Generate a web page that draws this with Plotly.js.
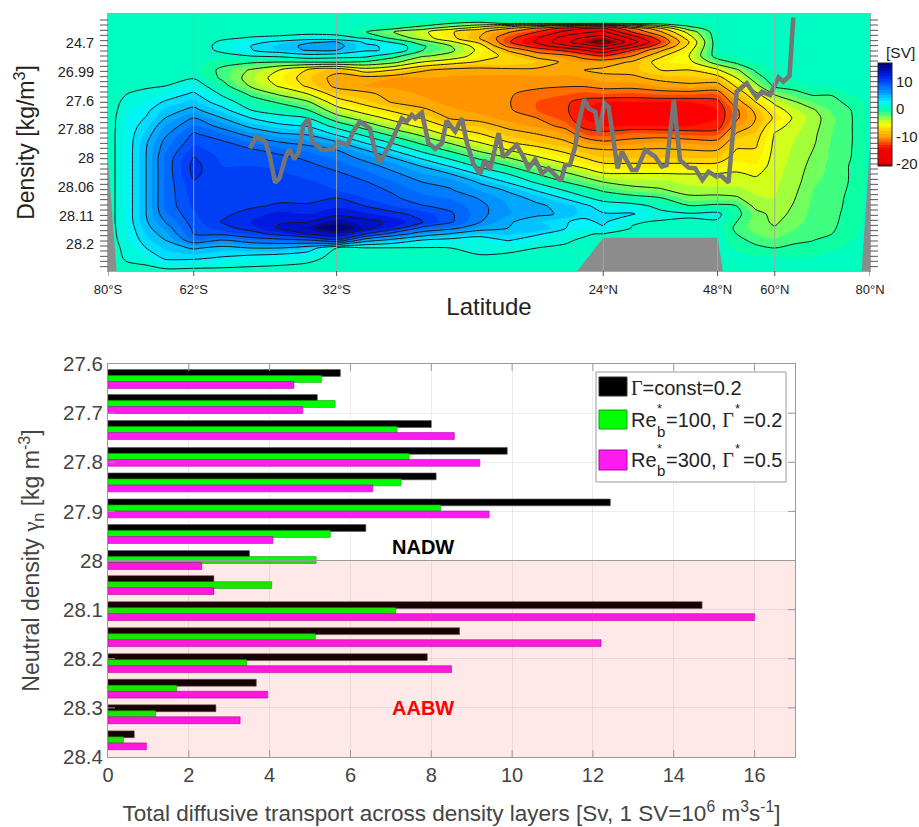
<!DOCTYPE html>
<html><head><meta charset="utf-8">
<script src="https://cdn.plot.ly/plotly-3.0.1.min.js"></script>
<style>html,body{margin:0;padding:0;background:#fff}#c{width:919px;height:827px}</style>
</head><body><div id="c"></div>
<script>
// ---------- top panel data ----------
const latitudeTicks=[-80,-62,-32,24,48,60,80];
const latitudeLabels=['80°S','62°S','32°S','24°N','48°N','60°N','80°N'];
const densityTickPos=[129,215,302,387,474,561,648,732];
const densityLabels=['24.7','26.99','27.6','27.88','28','28.06','28.11','28.2'];
const layerTicks=[60,75,91,106,122,137,153,168,183,199,214,230,245,260,276,291,307,322,337,353,368,384,399,414,430,445,461,476,492,507,522,538,553,569,584,599,615,630,646,661,676,692,707,723,738,753,769,784,800];
const lat=[-80,-76,-72,-68,-62,-56,-50,-44,-38,-32,-26,-20,-14,-8,-2,4,10,16,20,24,30,36,42,48,52,56,60,64,68,72,76,80];
const layer=[42,60,70,78,86,96,114,126,138,150,168,186,210,234,258,282,306,330,354,378,402,426,450,474,498,522,546,570,594,618,642,666,684,702,720,744,774,813];
// streamfunction [Sv]: one row per latitude, one value per layer
const psi=[
[.3,.3,.3,.3,.3,.3,.3,.3,.3,.3, .3,.3,.3,.3,.3,.3,.3,.3,.3,.3, .3,.3,.3,.3,.3,.3,.3,.3,.3,.3, .3,.3,.3,.3,.3,.3,.3,.3],
[.3,.3,.3,.3,.3,.3,.3,.3,.3,.3, .3,.3,.3,.3,.6,1,1.4,1.7,2,2.1, 2.2,2.2,2.2,2.2,2.2,2.2,2.2,2.2,2.2,2.2, 2.2,2.2,2,1.9,1.7,1.4,1.2,.5],
[.3,.3,.3,.3,.3,.3,.3,.3,.3,.3, .3,.3,.3,.4,.8,1.4,2,2.6,3.1,3.7, 4.3,4.8,4.95,5,5,5,5,5,5,5, 5,4.8,4.5,4.1,3.7,3,1.6,.5],
[.3,.3,.3,.3,.3,.3,.3,.3,.3,.3, .3,.3,.3,.5,1,2,3.2,4.3,5,6, 6.7,7.4,7.8,8.2,8.2,8.2,8.2,8.2,8.2,8.2, 7.8,7,6.3,5.6,5,4.2,3.3,.5],
[.3,.3,.3,.3,.3,.3,.3,.3,.3,.3, .3,.3,.4,.9,2,3.3,4.3,5.4,7,8.1, 9.2,9.7,10.4,11.1,11.4,11.3,10.9,10.6,10.4,10.2, 9.9,9.6,9.3,9,8,5.2,3.3,.4],
[.3,.3,.3,.3,.3,.6,.8,1.2,1.4,1.3, .6,-.4,-1.4,-1.3,-.3,.7,2,3.6,5,6.5, 8,9.2,9.5,9.8,10,10.1,10.2,10.3,10.4,10.5, 10.7,11.1,10.5,9.3,7,4.5,2.8,.4],
[.3,.3,.3,.3,.3,.5,1.1,2.3,3,2.9, 1,-.7,-3.2,-3.8,-3.2,-1.3,-.2,1,3,4.6, 6.4,8,9.2,9.7,10,10.2,10.3,10.4,10.5,10.8, 11.5,12,11.6,10.3,8,5,2.2,.4],
[.3,.3,.3,.3,.3,.5,1.3,3.5,4.3,4.2, 1.3,-1,-5,-5.8,-5.2,-3.3,-1.2,0,1.7,3.5, 5.2,7,8.4,9.5,9.9,10.1,10.3,10.5,10.7,11.2, 12.3,12.9,13.2,11.5,8.5,5,1.8,.4],
[.3,.3,.3,.3,.3,.5,1.8,4.8,5.4,5.2, 2.2,-.9,-7.2,-7.8,-7.3,-5,-2.8,-1,1,2.9, 4.8,6.4,7.8,8.7,9.4,9.8,10.1,10.4,10.8,11.1, 12,13,14.3,13,9,4,1.3,.5],
[.3,.3,.3,.3,.3,.6,1.4,5.1,5.6,5.1, 1.8,-.8,-8.5,-9.6,-9.4,-7.9,-6,-4.2,-2.1,.3, 2.7,5.1,7,7.8,8.5,9.3,9.7,10,11,11.8, 12.6,14.6,17.2,14,10.8,1,.7,.5],
[.3,.3,.3,.2,0,-.9,.9,2.7,3.4,3.3, 1.5,-1.2,-6,-9.7,-10,-8.6,-7.7,-5.9,-4,-1.9, .4,2.7,5,6.6,7.6,8.3,9.1,9.5,10,11, 12.2,13.5,13.6,11,6,.9,.7,.4],
[.3,.3,.1,-.2,-.9,-3,-1.5,.6,2.5,2.7, -.4,-2.5,-7,-10,-10.2,-9.6,-9.2,-7.4,-5.6,-3.9, -1.7,.5,2.8,5,6.4,7.3,8,8.8,9.2,10, 11.4,12.7,11.8,8,4.5,.9,.7,.4],
[.3,.2,-.2,-1,-2.5,-4.5,-4,-2,-.7,-.9, -2.8,-5,-8.8,-10,-10.3,-10.1,-9.7,-8.7,-7.2,-5.5, -3.5,-1.6,.4,2.7,4.9,6.1,7,7.6,8.3,9.1, 10.5,11.1,8.5,6,3,.9,.7,.4],
[.3,.1,-1,-2.5,-4.5,-6.8,-6.5,-4.6,-3,-2.6, -3.6,-6.2,-9.5,-10.1,-10.4,-10.5,-10.3,-9.8,-9.2,-7.5, -5.6,-3.4,-1.4,.6,2.8,5,6.6,7.1,7.9,8.6, 9.2,9.2,7.5,4.8,2.5,1,.7,.4],
[.3,.1,-1.5,-4,-6.5,-8.5,-9,-7.5,-6,-5.5, -6,-7.2,-9.6,-10.2,-10.5,-10.7,-10.7,-10.4,-9.6,-8.2, -6.9,-5.1,-3.4,-1.3,.6,2.8,4.8,5.9,6.9,7.4, 7.4,7.1,5.8,3.8,2,1.2,.9,.4],
[.3,.1,-.8,-6,-9,-10.8,-12.4,-12.8,-11.5,-9.3, -7.5,-7.2,-9.4,-10.3,-10.6,-10.85,-10.9,-10.8,-10.4,-9.4, -8.3,-7,-5,-2.9,-1,1,2.8,4.8,5.6,6, 6.1,5.2,5,4.2,3.2,1.2,.8,.4],
[.3,.1,-.8,-8,-11.5,-13,-14.8,-15.3,-14,-12, -9.5,-8,-9.3,-10.2,-10.7,-11.5,-12,-12,-11,-10.2, -9,-8,-6.2,-4.7,-2.8,-1,.7,2.8,4.6,5.3, 5.3,4.2,4.9,3.3,1.9,1,.8,.4],
[.3,.1,-.8,-10,-14,-15.5,-18,-18.5,-16.5,-13.5, -10.5,-9.3,-9.6,-10.2,-10.9,-11.9,-12.8,-12.8,-12.5,-11.5, -10,-8.8,-7.5,-6,-4.5,-2.6,-1,.8,2.8,4.5, 4.8,3.1,3.1,1.8,1.1,.9,.6,.4],
[.3,.1,-.8,-11,-15,-16.5,-19.3,-20.4,-18,-15, -11.8,-10,-9,-10,-10.9,-12.3,-13.5,-14,-14,-13.5, -12,-10,-8.5,-7,-5.5,-3.7,-2,-.2,1.3,3.5, 3.5,2.6,1.9,1.1,.9,.8,.5,.4],
[.3,.1,-1,-12,-15.5,-17.5,-20,-22,-19.5,-16.5, -13,-10,-8.6,-9.5,-10.5,-12,-14,-14.5,-14.7,-14, -12.5,-10.8,-8.9,-7.9,-6.5,-4.8,-3,-1.3,.3,2, 3.2,3.3,2.8,.9,.7,.5,.4,.3],
[.3,.1,-.6,-7,-11.5,-13,-16.5,-18,-16,-13.2, -11,-8.8,-8.4,-9.4,-10.5,-12.2,-14,-14.5,-14.7,-14, -11.8,-10.5,-8.9,-8,-6.5,-4.9,-3.7,-2.3,-.3,1.6, 3.2,1.1,.95,.8,.7,.6,.5,.4],
[.3,.1,-.3,-4,-7.5,-9.3,-12,-13,-11.7,-9.5, -7.3,-6.2,-7,-8.5,-9.9,-11.8,-14,-14.5,-14.7,-14, -11.9,-10,-8.8,-8,-6.5,-4.9,-3.8,-2.8,-.9,.6, 1.4,.9,.8,.7,.6,.5,.5,.4],
[.3,.2,.1,-.8,-2.2,-4.3,-6,-7,-6.5,-5.7, -5,-5.5,-7,-8.2,-9.4,-11.8,-14,-14.5,-14.7,-14, -12.3,-10.3,-9,-8,-6.5,-5,-4.2,-3.7,-2.6,-.9, 1.2,.8,.7,.6,.5,.5,.4,.4],
[.3,.3,.3,.3,.3,.2,.2,.2,.1,.1, -.1,-2,-5.2,-7.8,-9.8,-11.9,-13.5,-14,-14,-13.7, -12.3,-10.5,-9,-7.8,-6.5,-4.9,-4.3,-3.8,-2.5,-.6, 1.4,.8,.7,.6,.5,.4,.4,.4],
[.3,.3,.3,.3,.3,.3,.3,.3,.2,.1, .1,-.5,-3.3,-5,-6.7,-8.5,-9.8,-11.3,-11.3,-10.3, -8.8,-7.6,-6.9,-6.3,-5.6,-4.8,-4.3,-3.8,-2.8,-1, -.5,-1,-1.4,-1,-.6,-.1,.3,.4],
[.3,.3,.3,.3,.3,.3,.3,.3,.3,.3, .2,.1,-.7,-2,-3.6,-5.5,-7,-8.5,-9,-8.6, -7.8,-7.3,-6.9,-6.4,-5.9,-5.2,-4.6,-4.2,-3.9,-3.5, -2.4,-2.5,-2.4,-2,-1.4,-.7,.2,.4],
[.3,.3,.3,.3,.3,.3,.3,.3,.3,.3, .3,.3,.3,.2,-.7,-2.8,-4.6,-5.8,-6.7,-5.6, -4.9,-4.7,-4.6,-4.5,-4.4,-4.3,-4.2,-4.1,-4,-3.8, -3.5,-3.2,-2.9,-2.4,-1.9,-1,.2,.4],
[.3,.3,.3,.3,.3,.3,.3,.3,.3,.3, .3,.3,.3,.2,-.5,-1.5,-3.2,-4.2,-4.8,-4.5, -4.2,-4,-3.9,-3.8,-3.7,-3.6,-3.5,-3.3,-3.1,-2.9, -2.7,-2.4,-2.1,-1.7,-1.3,-.7,.1,.3],
[.3,.3,.3,.3,.3,.3,.3,.3,.3,.3, .3,.3,.3,.3,.2,-.8,-1.9,-3.2,-3.6,-3.5, -3.3,-3.2,-3,-2.8,-2.6,-2.4,-2.2,-2,-1.9,-1.8, -1.7,-1.6,-1.4,-1.2,-1.05,-.6,.1,.3],
[.3,.3,.3,.3,.3,.3,.3,.3,.3,.3, .3,.3,.3,.3,.3,-.9,-1.4,-1.8,-2.2,-2.1, -2,-1.9,-1.8,-1.8,-1.7,-1.7,-1.6,-1.6,-1.5,-1.5, -1.4,-1.3,-1.2,-1,-.5,-.1,.2,.3],
[.3,.3,.3,.3,.3,.3,.3,.3,.3,.3, .3,.3,.3,.3,.3,.1,-.6,-1,-1.1,-1.1, -1.1,-1.1,-1.05,-1,-.9,-.9,-.9,-.8,-.7,-.6, -.5,-.4,-.3,-.2,0,.1,.2,.3],
[.3,.3,.3,.3,.3,.3,.3,.3,.3,.3, .3,.3,.3,.3,.3,.3,.3,.3,.3,.3, .3,.3,.3,.3,.3,.3,.3,.3,.3,.3, .3,.3,.3,.3,.3,.4,.4,.4]
];
// grey curve
const curveLat=[-50.2,-48.9,-47,-46,-44.9,-44,-42.8,-41.9,-40.9,-39.9,-39,-37.9,-37.1,-35.1,-32.7,-31.8,-29.7,-28.5,-27.1,-25,-23.9,-23,-20.8,-18.3,-17.3,-16.2,-15.5,-14.1,-12.7,-11.3,-9.9,-8.9,-7.1,-5.7,-4.7,-3.3,-1.9,-.9,.2,2,3,5.8,7.2,8.3,9.7,11.1,12.5,15.1,16,17,18.1,18.8,20,20.9,22.3,23.1,24.2,25.1,27,27.9,30,31,32.8,34.9,36.3,37.3,38.8,40.1,41.9,43.3,44.8,46.1,47.8,48.6,50.3,51.3,52,54.1,56.2,57.3,59,60.8,61.8,63.1,63.9];
const curveLayer=[445,410,425,470,548,535,475,447,478,455,375,355,425,450,448,425,435,395,365,385,455,487,435,355,365,345,355,338,430,447,430,362,395,355,425,490,522,480,510,400,472,435,470,505,478,520,505,543,495,495,440,370,298,325,335,400,310,320,505,455,510,510,450,470,500,495,300,480,503,505,540,515,530,525,548,380,275,250,293,275,285,232,245,228,52];
// land outlines
const landWestLat=[-80,-78.2,-80], landWestLayer=[813,813,480];
const landRidgeLat=[18.55,24,48,49.1], landRidgeLayer=[813,713,713,813];
const landEastLat=[80,78.25,80], landEastLayer=[813,813,440];
// colour scale of the streamfunction
const scaleValues=[-20.7,-19.6,-14,-12.5,-10.5,-8,-5.5,-4,-2,0,3,6,10,13,16.8];
const scaleColors=['#900000','#e60000','#ff0000','#ff4000','#ff9000','#ffc400','#ffff00','#c4ff20','#66ff66','#00ffaa','#00f4ff','#00a4ff','#0050ff','#0018e0','#000080'];
const barTickVals=[-20,-10,0,10];
const barTickText=['-20','-10','0','10'];

// ---------- bottom panel data ----------
const layerDensity=[27.6305,27.6814,27.7344,27.789,27.841,27.894,27.946,27.999,28.05,28.103,28.156,28.209,28.261,28.313,28.366];
const transportConst=[5.75,5.18,8,9.88,8.12,12.43,6.38,3.5,2.62,14.7,8.7,7.9,3.67,2.67,.65];
const transportRe100=[5.28,5.62,7.15,7.45,7.25,8.23,5.5,5.15,4.05,7.12,5.13,3.43,1.7,1.18,.38];
const transportRe300=[4.6,4.82,8.57,9.2,6.55,9.43,4.08,2.32,2.62,16,12.2,8.5,3.95,3.27,.95];
const colConst='#000000',colRe100='#00ff00',colRe300='#ff1cf0';
const densityTicks=[27.6,27.7,27.8,27.9,28,28.1,28.2,28.3,28.4];
const transportTicks=[0,2,4,6,8,10,12,14,16];

const W=919,H=827;
const px=x=>x/W, py=y=>1-y/H;
const cs=scaleValues.map((v,i)=>[(v-scaleValues[0])/(scaleValues[scaleValues.length-1]-scaleValues[0]),scaleColors[i]]);
const zTable=layer.map((_,r)=>psi.map(col=>col[r]));
const font='"Liberation Sans",Arial,sans-serif', ink='#444444';
const barShift=.0122, barW=.0139;
const edge=c=>({color:c,width:.6});

const traces=[
 {type:'contour',x:lat,y:layer,z:zTable,xaxis:'x',yaxis:'y',colorscale:cs,zmin:-20.7,zmax:16.8,autocontour:false,
  contours:{coloring:'fill',start:-21,end:17,size:1,showlines:false},line:{width:0,smoothing:.8},hoverinfo:'skip',
  colorbar:{x:px(878),xanchor:'left',xpad:0,ypad:0,y:py(166),yanchor:'bottom',lenmode:'pixels',len:103,thickness:14,
    outlinecolor:'#222',outlinewidth:1,tickmode:'array',tickvals:barTickVals,ticktext:barTickText,ticks:'',
    tickfont:{family:font,size:15,color:'#222'}}},
 {type:'contour',x:lat,y:layer,z:zTable,xaxis:'x',yaxis:'y',showscale:false,autocontour:false,
  contours:{coloring:'none',start:-23,end:17,size:2},line:{color:'#1a1a1a',width:1,smoothing:.8},hoverinfo:'skip'},
 {type:'scatter',mode:'lines',x:landWestLat,y:landWestLayer,fill:'toself',fillcolor:'#8c8c8c',line:{width:0},xaxis:'x',yaxis:'y',hoverinfo:'skip',showlegend:false},
 {type:'scatter',mode:'lines',x:landRidgeLat,y:landRidgeLayer,fill:'toself',fillcolor:'#8c8c8c',line:{width:0},xaxis:'x',yaxis:'y',hoverinfo:'skip',showlegend:false},
 {type:'scatter',mode:'lines',x:landEastLat,y:landEastLayer,fill:'toself',fillcolor:'#8c8c8c',line:{width:0},xaxis:'x',yaxis:'y',hoverinfo:'skip',showlegend:false},
 {type:'scatter',mode:'lines',x:curveLat,y:curveLayer,line:{color:'#757575',width:4.5,shape:'linear'},xaxis:'x',yaxis:'y',hoverinfo:'skip',showlegend:false},
 {type:'bar',orientation:'h',x:transportConst,y:layerDensity.map(d=>d-barShift),width:barW,marker:{color:colConst,line:edge('#555')},xaxis:'x2',yaxis:'y2',showlegend:false},
 {type:'bar',orientation:'h',x:transportRe100,y:layerDensity,width:barW,marker:{color:colRe100,line:edge('#0a0')},xaxis:'x2',yaxis:'y2',showlegend:false},
 {type:'bar',orientation:'h',x:transportRe300,y:layerDensity.map(d=>d+barShift),width:barW,marker:{color:colRe300,line:edge('#a0a')},xaxis:'x2',yaxis:'y2',showlegend:false}
];

const shapes=latitudeTicks.slice(1,-1).map(v=>({type:'line',xref:'x',yref:'paper',x0:v,x1:v,y0:py(271),y1:py(14),line:{color:'rgba(165,165,165,.9)',width:1},layer:'above'}));
shapes.push({type:'rect',xref:'x2',yref:'y2',x0:0,x1:17,y0:28,y1:28.4,fillcolor:'rgba(255,0,0,.09)',line:{width:0},layer:'above'});
shapes.push({type:'line',xref:'x2',yref:'y2',x0:0,x1:17,y0:28,y1:28,line:{color:'#9a9a9a',width:1},layer:'above'});
// tick marks
const tickLine=(xref,yref,x0,x1,y0,y1,color)=>({type:'line',xref,yref,x0,x1,y0,y1,line:{color,width:1},layer:'above'});
layerTicks.forEach(t=>{
  shapes.push(tickLine('paper','y',px(100),px(108),t,t,'#555'));
  shapes.push(tickLine('paper','y',px(870),px(878),t,t,'#555'));
});
latitudeTicks.forEach(v=>shapes.push(tickLine('x','paper',v,v,py(271),py(276),'#555')));
transportTicks.slice(1).forEach(v=>{
  shapes.push(tickLine('x2','paper',v,v,py(757),py(750),'#9a9a9a'));
  shapes.push(tickLine('x2','paper',v,v,py(364),py(371),'#9a9a9a'));
});
densityTicks.slice(1,-1).forEach(v=>{
  shapes.push(tickLine('paper','y2',px(108),px(115),v,v,'#9a9a9a'));
  shapes.push(tickLine('paper','y2',px(795),px(788),v,v,'#9a9a9a'));
});
// legend box + swatches
const lg=(a,b,c,d,f,l)=>({type:'rect',xref:'paper',yref:'paper',x0:px(a),x1:px(c),y0:py(b),y1:py(d),fillcolor:f,line:{color:l,width:1},layer:'above'});
shapes.push(lg(596,372,786,482,'#ffffff','#9a9a9a'));
shapes.push(lg(599,377,627,396,colConst,'#333'));
shapes.push(lg(599,410,627,429,colRe100,'#0a0'));
shapes.push(lg(599,450,627,470,colRe300,'#a0a'));

const txt=(x,y,text,size,extra)=>Object.assign({xref:'paper',yref:'paper',x:px(x),y:py(y),text,showarrow:false,xanchor:'left',yanchor:'middle',font:{family:font,size,color:'#222'}},extra||{});
const G='<span style="font-family:\'Liberation Serif\',serif">Γ</span>';
const annotations=[
 {xref:'x2',yref:'y2',x:7.8,y:27.973,text:'<b>NADW</b>',showarrow:false,font:{family:font,size:20,color:'#000'}},
 {xref:'x2',yref:'y2',x:7.8,y:28.30,text:'<b>AABW</b>',showarrow:false,font:{family:font,size:20,color:'#ff0000'}},
 txt(884,52,'[SV]',15.5),
 txt(629,388,G+'=const=0.2',20),
 txt(629,420,'Re',20),txt(655,408,'*',13),txt(655,431,'b',15),txt(664,420,'=100, '+G,20),txt(733,408,'*',13),txt(741,420,'=0.2',20),
 txt(629,460,'Re',20),txt(655,448,'*',13),txt(655,471,'b',15),txt(664,460,'=300, '+G,20),txt(733,448,'*',13),txt(741,460,'=0.5',20)
];

const layout={
 width:W,height:H,margin:{l:0,r:0,t:0,b:0},paper_bgcolor:'#fff',plot_bgcolor:'#fff',showlegend:false,barmode:'overlay',
 font:{family:font,color:ink},shapes,annotations,
 xaxis:{domain:[px(108),px(870)],range:[-80,80],anchor:'y',tickmode:'array',tickvals:latitudeTicks,ticktext:latitudeLabels,ticks:'outside',ticklen:6,tickcolor:'rgba(0,0,0,0)',
   tickfont:{family:font,size:13,color:'#222'},showgrid:false,zeroline:false,showline:true,linecolor:'#aaa',mirror:true,
   title:{text:'Latitude',font:{family:font,size:24,color:'#222'},standoff:2}},
 yaxis:{domain:[py(271),py(14)],range:[813,42],anchor:'x',tickmode:'array',tickvals:densityTickPos,ticktext:densityLabels,ticks:'outside',ticklen:10,tickcolor:'rgba(0,0,0,0)',
   tickfont:{family:font,size:14.5,color:'#222'},showgrid:false,zeroline:false,showline:true,linecolor:'#aaa',mirror:true,
   title:{text:'Density [kg/m<sup>3</sup>]',font:{family:font,size:23,color:'#222'},standoff:16}},
 xaxis2:{domain:[px(108),px(795)],range:[0,17],anchor:'y2',tickmode:'array',tickvals:transportTicks,ticks:'',
   tickfont:{family:font,size:20,color:ink},showgrid:true,gridcolor:'rgba(0,0,0,.07)',zeroline:false,showline:true,linecolor:'#9a9a9a',mirror:true,
   title:{text:'Total diffusive transport across density layers [Sv, 1 SV=10<sup>6</sup> m<sup>3</sup>s<sup>-1</sup>]',font:{family:font,size:22.5,color:ink},standoff:20}},
 yaxis2:{domain:[py(757),py(364)],range:[28.4,27.6],anchor:'x2',tickmode:'array',tickvals:densityTicks,ticktext:densityTicks.map(String),ticks:'',
   tickfont:{family:font,size:20.5,color:ink},showgrid:true,gridcolor:'rgba(0,0,0,.07)',zeroline:false,showline:true,linecolor:'#9a9a9a',mirror:true,
   title:{text:'Neutral density <span style="font-family:\'Liberation Serif\',serif">γ</span><sub>n</sub> [kg m<sup>-3</sup>]',font:{family:font,size:23,color:ink},standoff:16}}
};
Plotly.newPlot('c',traces,layout,{displayModeBar:false,staticPlot:true});
</script></body></html>
